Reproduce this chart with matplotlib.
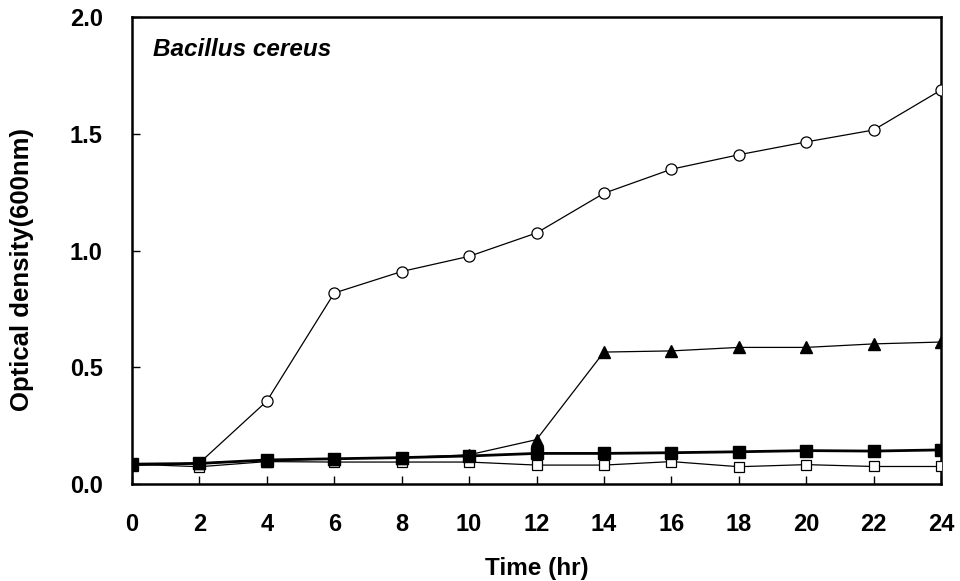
import matplotlib
matplotlib.use("Agg")
import matplotlib.pyplot as plt

plt.rcParams['font.family'] = ['Liberation Sans', 'DejaVu Sans']

hours = [0, 2, 4, 6, 8, 10, 12, 14, 16, 18, 20, 22, 24]
open_circle = [0.08, 0.09, 0.355, 0.818, 0.91, 0.975, 1.075, 1.245, 1.348, 1.41, 1.465, 1.516, 1.687]
filled_triangle = [0.08, 0.09, 0.10, 0.108, 0.113, 0.125, 0.19, 0.565, 0.57, 0.585, 0.585, 0.60, 0.608]
filled_square = [0.085, 0.088, 0.103, 0.108, 0.113, 0.12, 0.131, 0.131, 0.134, 0.138, 0.143, 0.141, 0.146]
open_square = [0.085, 0.074, 0.096, 0.094, 0.094, 0.094, 0.081, 0.081, 0.096, 0.074, 0.083, 0.075, 0.075]

xticks = list(range(0, 25, 2))
yticks = [0.0, 0.5, 1.0, 1.5, 2.0]

fig = plt.figure(figsize=(9.6, 5.81), dpi=100)
ax = fig.add_axes([132/960, 1 - 484/581, (941-132)/960, (484-17)/581])

ax.plot(hours, open_square, color='black', lw=0.9, marker='s', ms=7.5,
        mfc='white', mec='black', mew=0.9, zorder=3)
ax.plot(hours, open_circle, color='black', lw=0.9, marker='o', ms=8,
        mfc='white', mec='black', mew=0.9, zorder=4)
ax.plot(hours, filled_triangle, color='black', lw=0.9, marker='^', ms=8.5,
        mfc='black', mec='black', zorder=4)
ax.plot(hours, filled_square, color='black', lw=2.0, marker='s', ms=8.5,
        mfc='black', mec='black', zorder=5)

ax.set_xlim(0, 24)
ax.set_ylim(0, 2.0)
ax.set_xticks(xticks)
ax.set_xticklabels([str(t) for t in xticks])
ax.set_yticks(yticks)
ax.set_yticklabels([f"{t:.1f}" for t in yticks])
ax.tick_params(direction='in', length=6, width=1, labelsize=17)
ax.tick_params(axis='x', pad=21)
ax.tick_params(axis='y', pad=21)
for lab in ax.get_xticklabels() + ax.get_yticklabels():
    lab.set_fontweight('bold')
for s in ax.spines.values():
    s.set_linewidth(1.8)

ax.set_xlabel('Time (hr)', fontsize=17.5, fontweight='bold', labelpad=15)
ax.set_ylabel('Optical density(600nm)', fontsize=18.5, fontweight='bold', labelpad=26, y=0.46)
ax.text(21/809, 1 - 33/467, 'Bacillus cereus', transform=ax.transAxes, fontsize=17.5,
        fontweight='bold', style='italic', va='center', ha='left')

fig.savefig('out.png', dpi=100)
